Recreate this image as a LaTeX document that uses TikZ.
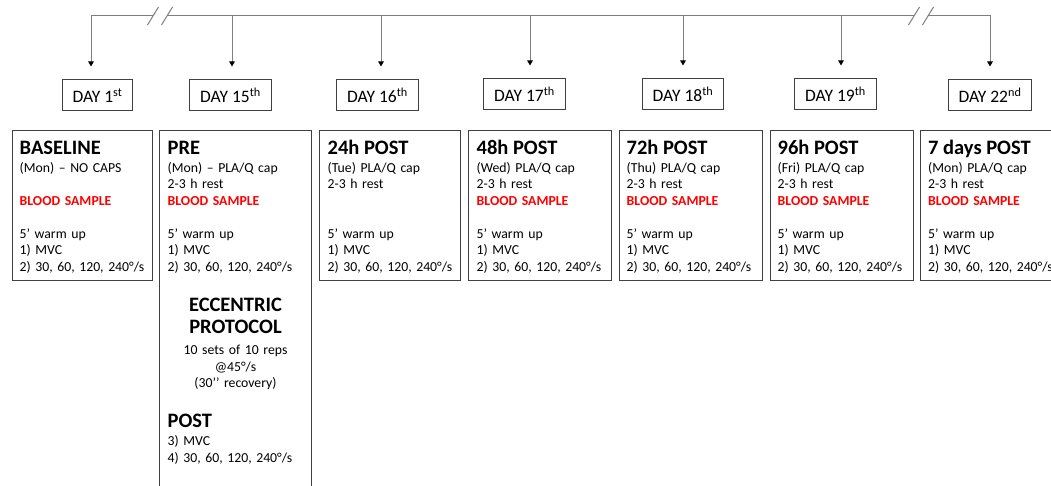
\documentclass[tikz,border=0pt]{standalone}
\usepackage{fontspec}
\setmainfont{Carlito}
\usetikzlibrary{arrows.meta,calc}
\definecolor{linegray}{HTML}{7F7F7F}
\definecolor{boxgray}{HTML}{404040}
\definecolor{bloodred}{HTML}{FF0000}
\newcommand{\hfnt}{\fontsize{20.5}{22}\selectfont\bfseries}
\newcommand{\bfnt}{\fontsize{13.75}{16.5}\selectfont}
\newcommand{\blood}{\textcolor{bloodred}{\bfseries BLOOD SAMPLE}}
\begin{document}
\begin{tikzpicture}[x=1pt,y=-1pt,
  tl/.style={draw=linegray,line width=1pt},
  arr/.style={draw=linegray,line width=1pt,-{Triangle[length=5pt,width=5.5pt,color=black]}},
  daybox/.style={draw=boxgray,line width=1pt,minimum height=31pt,inner xsep=10.5pt,inner ysep=0pt,font=\fontsize{17.5}{20}\selectfont},
  panel/.style={line width=1pt,minimum height=149pt,inner sep=0pt},
  txt/.style={anchor=base west,inner sep=0pt,text width=145pt,align=left,font=\bfnt},
]
\useasboundingbox (0,0) rectangle (1051,486);

% timeline coordinates
\coordinate (t1) at (91,16);
\coordinate (t2) at (232,16);
\coordinate (t3) at (381,16);
\coordinate (t4) at (530,16);
\coordinate (t5) at (683,16);
\coordinate (t6) at (841,16);
\coordinate (t7) at (990,16);
\coordinate (k1a) at (153,16);
\coordinate (k1b) at (167,16);
\coordinate (k2a) at (914,16);
\coordinate (k2b) at (928,16);

% day boxes
\node[daybox] (d1) at (97.5,95.5) {DAY 1\textsuperscript{st}};
\node[daybox] (d2) at (230.5,95.5) {DAY 15\textsuperscript{th}};
\node[daybox] (d3) at (377.5,95.5) {DAY 16\textsuperscript{th}};
\node[daybox] (d4) at (524.5,94.5) {DAY 17\textsuperscript{th}};
\node[daybox] (d5) at (683,94.5) {DAY 18\textsuperscript{th}};
\node[daybox] (d6) at (835.5,94.5) {DAY 19\textsuperscript{th}};
\node[daybox] (d7) at (990,95.5) {DAY 22\textsuperscript{nd}};

% timeline with breaks
\draw[tl] (k1b) -- (k2a);
\draw[arr] (k1a) -- (t1) -- ($(t1 |- d1.north)+(0,-13)$);
\draw[arr] (k2b) -- (t7) -- ($(t7 |- d7.north)+(0,-13)$);
\draw[tl] ($(k1a)+(-5.5,9)$) -- ($(k1a)+(5.5,-9)$);
\draw[tl] ($(k1b)+(-5.5,9)$) -- ($(k1b)+(5.5,-9)$);
\draw[tl] ($(k2a)+(-5.5,9)$) -- ($(k2a)+(5.5,-9)$);
\draw[tl] ($(k2b)+(-5.5,9)$) -- ($(k2b)+(5.5,-9)$);
\foreach \i in {2,...,6}{
  \draw[arr] (t\i) -- ($(t\i |- d\i.north)+(0,-13)$);
}

% panels
\node[panel,draw=boxgray,minimum width=140pt] (b1) at (82,205.5) {};
\node[panel,minimum width=151pt,minimum height=355pt] (b2) at (235.5,308.5) {};
\node[panel,draw=boxgray,minimum width=141pt] (b3) at (389.5,205.5) {};
\node[panel,draw=boxgray,minimum width=143pt] (b4) at (539.5,205.5) {};
\node[panel,draw=boxgray,minimum width=143pt] (b5) at (690.5,205.5) {};
\node[panel,draw=boxgray,minimum width=143pt] (b6) at (841.5,205.5) {};
\node[panel,minimum width=130pt] (b7) at (986,205.5) {};
\draw[draw=boxgray,line width=1pt] (b2.south west) |- (b2.north east) -- (b2.south east);
\draw[draw=boxgray,line width=1pt] (b7.north east) -| (b7.south west) -- (b7.south east);

% panel texts
\node[txt] (x1) at ($(b1.north west)+(8,24)$) {{\hfnt BASELINE\par}\vspace{1.5pt}(Mon) – NO CAPS\\ \mbox{}\\ \blood\\ \mbox{}\\ 5’ warm up\\ 1) MVC\\ 2) 30, 60, 120, 240°/s};
\node[txt] (x2) at ($(b2.north west)+(8,24)$) {{\hfnt PRE\par}\vspace{1.5pt}(Mon) – PLA/Q cap\\ 2-3 h rest\\ \blood\\ \mbox{}\\ 5’ warm up\\ 1) MVC\\ 2) 30, 60, 120, 240°/s};
\node[anchor=base,inner sep=0pt,text width=145pt,align=center,font=\bfnt] (ecc) at ($(b2.north)+(0,181)$) {{\hfnt ECCENTRIC\\ PROTOCOL\par}\vspace{4.5pt}10 sets of 10 reps\\ @45°/s\\ (30’’ recovery)};
\node[txt] (post) at ($(b2.north west)+(8,297)$) {{\hfnt POST\par}\vspace{1.5pt}3) MVC\\ 4) 30, 60, 120, 240°/s};
\node[txt] (x3) at ($(b3.north west)+(9,24)$) {{\hfnt 24h POST\par}\vspace{1.5pt}(Tue) PLA/Q cap\\ 2-3 h rest\\ \mbox{}\\ \mbox{}\\ 5’ warm up\\ 1) MVC\\ 2) 30, 60, 120, 240°/s};
\node[txt] (x4) at ($(b4.north west)+(9,24)$) {{\hfnt 48h POST\par}\vspace{1.5pt}(Wed) PLA/Q cap\\ 2-3 h rest\\ \blood\\ \mbox{}\\ 5’ warm up\\ 1) MVC\\ 2) 30, 60, 120, 240°/s};
\node[txt] (x5) at ($(b5.north west)+(8,24)$) {{\hfnt 72h POST\par}\vspace{1.5pt}(Thu) PLA/Q cap\\ 2-3 h rest\\ \blood\\ \mbox{}\\ 5’ warm up\\ 1) MVC\\ 2) 30, 60, 120, 240°/s};
\node[txt] (x6) at ($(b6.north west)+(8,24)$) {{\hfnt 96h POST\par}\vspace{1.5pt}(Fri) PLA/Q cap\\ 2-3 h rest\\ \blood\\ \mbox{}\\ 5’ warm up\\ 1) MVC\\ 2) 30, 60, 120, 240°/s};
\node[txt] (x7) at ($(b7.north west)+(7.5,24)$) {{\hfnt 7 days POST\par}\vspace{1.5pt}(Mon) PLA/Q cap\\ 2-3 h rest\\ \blood\\ \mbox{}\\ 5’ warm up\\ 1) MVC\\ 2) 30, 60, 120, 240°/s};
\end{tikzpicture}
\end{document}
